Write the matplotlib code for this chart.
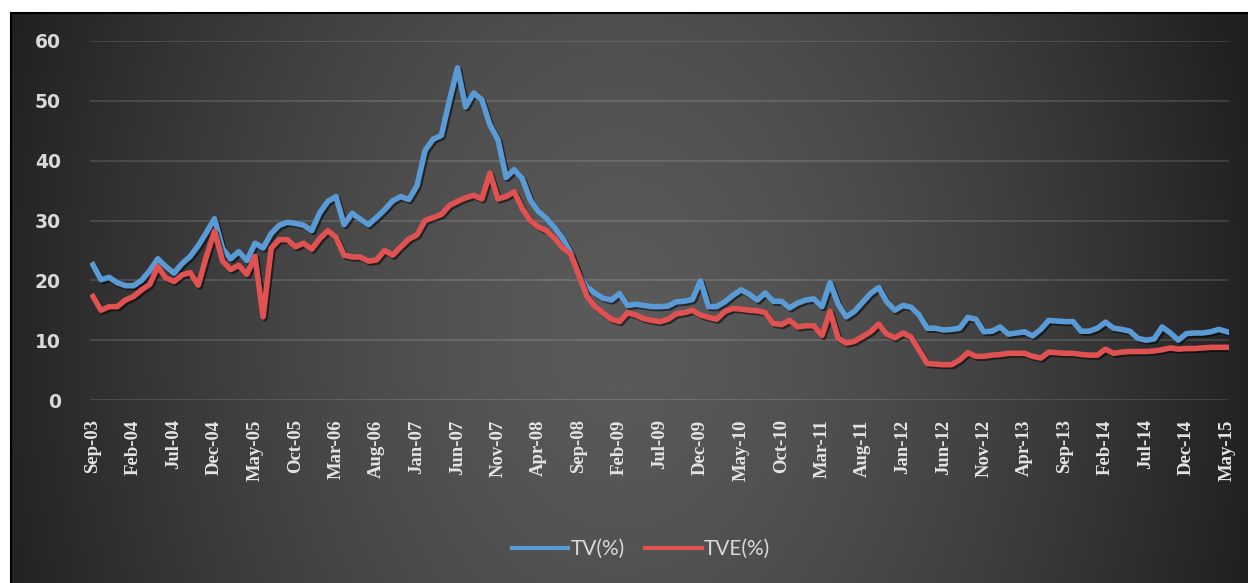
import numpy as np
import pandas as pd
import matplotlib
matplotlib.use('Agg')
import matplotlib.pyplot as plt
import matplotlib.patheffects as pe
from matplotlib.patches import Rectangle

# Monthly series, Sep-03 .. May-15
meses = pd.date_range('2003-09-01', periods=141, freq='MS').strftime('%b-%y').tolist()

tv = [22.6, 20.1, 20.5, 19.6, 19.1, 19.1, 20.0, 21.6, 23.6, 22.3,
      21.2, 22.8, 24.0, 25.8, 28.0, 30.3, 25.3, 23.6, 24.8, 23.3,
      26.2, 25.4, 27.8, 29.2, 29.7, 29.5, 29.2, 28.3, 31.3, 33.2,
      34.0, 29.3, 31.2, 30.2, 29.3, 30.5, 31.8, 33.3, 34.0, 33.5,
      35.8, 41.7, 43.6, 44.2, 50.0, 55.5, 49.0, 51.3, 50.2, 46.0,
      43.5, 37.2, 38.5, 37.0, 33.4, 31.5, 30.3, 28.8, 27.0, 24.5,
      21.0, 18.9, 17.8, 17.0, 16.7, 17.8, 15.8, 16.0, 15.8, 15.6,
      15.6, 15.7, 16.4, 16.5, 16.8, 19.9, 15.6, 15.6, 16.4, 17.5,
      18.4, 17.7, 16.7, 17.9, 16.5, 16.5, 15.4, 16.2, 16.7, 16.9,
      15.6, 19.6, 16.0, 13.9, 14.8, 16.3, 17.8, 18.8, 16.4, 15.0,
      15.8, 15.5, 14.2, 12.0, 12.0, 11.7, 11.8, 12.0, 13.8, 13.5,
      11.4, 11.5, 12.2, 11.0, 11.2, 11.4, 10.7, 11.8, 13.3, 13.2,
      13.1, 13.1, 11.5, 11.5, 12.0, 13.0, 12.0, 11.8, 11.5, 10.3,
      10.0, 10.2, 12.2, 11.2, 10.0, 11.1, 11.2, 11.2, 11.4, 11.8,
      11.4]

tve = [17.3, 15.0, 15.6, 15.6, 16.7, 17.3, 18.4, 19.3, 22.3, 20.4,
       19.8, 20.9, 21.3, 19.2, 24.0, 28.2, 23.2, 21.8, 22.5, 21.0,
       24.0, 13.9, 25.4, 26.8, 26.8, 25.6, 26.2, 25.2, 27.0, 28.3,
       27.2, 24.2, 23.9, 23.9, 23.2, 23.4, 25.0, 24.2, 25.6, 26.9,
       27.6, 30.0, 30.5, 31.0, 32.5, 33.2, 33.8, 34.2, 33.6, 37.9,
       33.6, 34.0, 34.8, 32.0, 30.0, 28.9, 28.3, 27.0, 25.4, 24.3,
       20.8, 17.3, 15.6, 14.5, 13.5, 13.1, 14.6, 14.2, 13.6, 13.3,
       13.1, 13.5, 14.4, 14.6, 15.0, 14.2, 13.8, 13.5, 14.8, 15.3,
       15.2, 15.0, 14.9, 14.6, 12.8, 12.6, 13.3, 12.2, 12.4, 12.4,
       10.8, 14.8, 10.3, 9.5, 9.8, 10.6, 11.4, 12.7, 11.0, 10.4,
       11.2, 10.5, 8.3, 6.1, 6.0, 5.9, 5.9, 6.7, 7.9, 7.3,
       7.3, 7.5, 7.6, 7.8, 7.8, 7.8, 7.3, 7.0, 8.0, 7.9,
       7.8, 7.8, 7.6, 7.5, 7.5, 8.5, 7.8, 8.0, 8.1, 8.1,
       8.1, 8.2, 8.4, 8.7, 8.5, 8.6, 8.6, 8.7, 8.8, 8.8,
       8.8]

W, H = 1248, 583
fig = plt.figure(figsize=(W / 100, H / 100), dpi=100)
fig.patch.set_facecolor('white')

# dark radial background of the chart area
bx0, by0 = 11, 13
bg = fig.add_axes([bx0 / W, 0, (W - bx0) / W, (H - by0) / H])
gx, gy = np.meshgrid(np.arange(bx0, W), np.arange(by0, H))
r = np.sqrt(((gx - 620) / 650.0) ** 2 + ((gy - 330) / 900.0) ** 2)
r = np.clip(r, 0, 1)
val = 90 - (90 - 32) * r ** 1.5
bg.imshow(np.dstack([val, val, val]) / 255.0, aspect='auto', interpolation='bilinear')
bg.axis('off')
fig.add_artist(Rectangle((bx0 / W, -0.01), (W - bx0 + 5) / W, (H - by0) / H + 0.01,
                         transform=fig.transFigure, fill=False, edgecolor='black', lw=1.5))

ax = fig.add_axes([90 / W, (H - 400) / H, (1229 - 90) / W, (400 - 41) / H])
ax.patch.set_alpha(0)
x = np.arange(len(meses))

sombra = [pe.SimpleLineShadow(offset=(1.3, -1.3), shadow_color='black', alpha=0.55), pe.Normal()]
ax.plot(x, tv, color='#5b9bd5', lw=4.0, label='TV(%)', solid_joinstyle='round',
        path_effects=sombra, zorder=3)
ax.plot(x, tve, color='#e05252', lw=4.0, label='TVE(%)', solid_joinstyle='round',
        path_effects=sombra, zorder=3)

ax.set_xlim(-0.37, 140.25)
ax.set_ylim(0, 60)
ax.set_yticks(range(0, 61, 10))
ax.grid(axis='y', color='#ffffff', alpha=0.12, lw=1.5)
ax.grid(axis='x', visible=False)
for s in ax.spines.values():
    s.set_visible(False)

ax.set_xticks(x[::5])
ax.set_xticklabels(meses[::5], rotation=90, family='Liberation Serif', fontsize=13.5,
                   fontweight='bold', color='#e4e4e4')
ax.tick_params(axis='x', length=0, pad=14)
ax.tick_params(axis='y', length=0, pad=21, labelsize=13.5, labelcolor='#d9d9d9')
for t in ax.get_yticklabels():
    t.set_fontweight('bold')

leg = fig.legend(loc='center', bbox_to_anchor=(641 / W, (H - 549) / H), ncol=2, frameon=False,
                 handlelength=2.7, columnspacing=1.0, handletextpad=0.1,
                 prop={'family': 'Lato', 'size': 15})
for t in leg.get_texts():
    t.set_color('#d9d9d9')
for l in leg.get_lines():
    l.set_linewidth(3)
    l.set_path_effects([])

fig.savefig('out.png', dpi=100)
